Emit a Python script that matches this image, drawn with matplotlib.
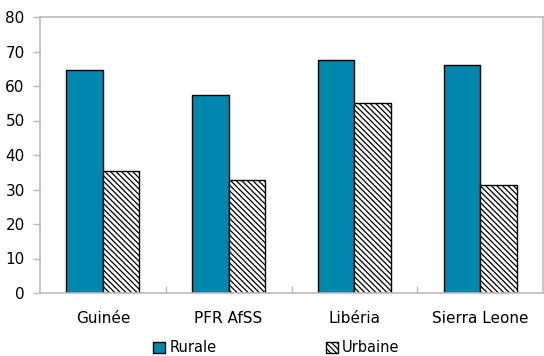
import matplotlib
matplotlib.use('Agg')
import matplotlib.pyplot as plt
import numpy as np

categories = ['Guinée', 'PFR AfSS', 'Libéria', 'Sierra Leone']
rurale = [64.6, 57.4, 67.5, 66.1]
urbaine = [35.4, 32.8, 55.1, 31.3]
series_names = ['Rurale', 'Urbaine']

plt.rcParams['font.family'] = 'DejaVu Sans'
plt.rcParams['hatch.linewidth'] = 0.9
plt.rcParams['hatch.color'] = '#555555'

fig = plt.figure(figsize=(5.44, 3.56), dpi=100)
ax = fig.add_axes([40 / 544, 1 - 293 / 356, 503 / 544, 276 / 356])

x = np.arange(len(categories))
width = 0.29
ax.bar(x - width / 2, rurale, width, color='#0087ae', edgecolor='black',
       linewidth=1.0, label=series_names[0])
ax.bar(x + width / 2, urbaine, width, color='white', edgecolor='black',
       hatch='\\\\\\\\\\\\', linewidth=1.0, label=series_names[1])

ax.set_xlim(-0.5, len(categories) - 0.5)
ax.set_ylim(0, 80)
ax.set_yticks(range(0, 81, 10))
ax.set_xticks(x)
ax.set_xticklabels(categories)
ax.set_xticks(np.arange(0.5, len(categories) - 1, 1), minor=True)
ax.tick_params(axis='x', which='major', length=0, pad=13, labelsize=11)
ax.tick_params(axis='x', which='minor', direction='in', length=5,
               color='#bbbbbb', width=1)
ax.tick_params(axis='y', length=5, color='#bbbbbb', width=1, labelsize=11,
               pad=6)
for spine in ax.spines.values():
    spine.set_color('#bbbbbb')
    spine.set_linewidth(1.2)

leg = ax.legend(loc='upper center', bbox_to_anchor=(0.47, -0.135), ncol=2,
                frameon=False, fontsize=10.5, handlelength=0.8,
                handleheight=0.8, handletextpad=0.3, columnspacing=7.5,
                borderpad=0.2)

fig.savefig('out.png', dpi=100)
